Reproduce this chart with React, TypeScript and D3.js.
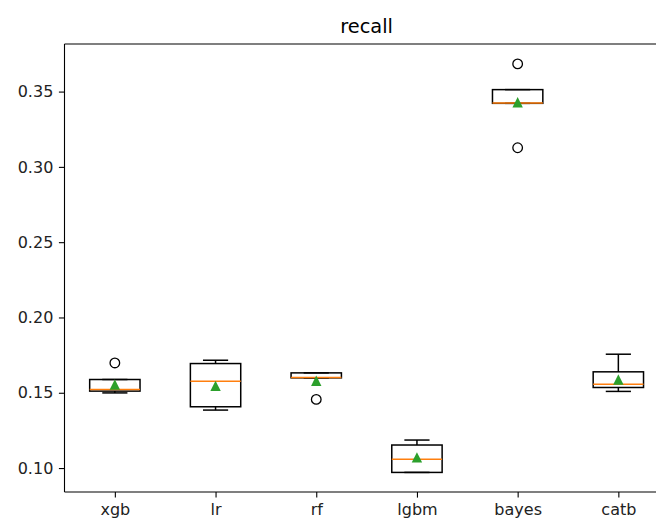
import React, { useEffect, useRef } from 'react';
import * as d3 from 'd3';

// box stats
const models = ['xgb', 'lr', 'rf', 'lgbm', 'bayes', 'catb'];
const whiskerLow = [0.1499, 0.1385, 0.1599, 0.0971, 0.3422, 0.1509];
const q1 = [0.1511, 0.1407, 0.1599, 0.0971, 0.3422, 0.1535];
const medians = [0.1522, 0.1577, 0.1601, 0.1058, 0.3425, 0.1557];
const q3 = [0.1588, 0.1694, 0.1632, 0.1153, 0.3513, 0.1639];
const whiskerHigh = [0.1588, 0.1716, 0.1632, 0.1186, 0.3513, 0.1756];
const means = [0.1555, 0.1546, 0.1580, 0.1071, 0.3429, 0.1588];
const outliers = [[0.1698], [], [0.1456], [], [0.3684, 0.3127], []];
const yTicks = [0.10, 0.15, 0.20, 0.25, 0.30, 0.35];

const App = () => {
    const ref = useRef<SVGSVGElement>(null);

    useEffect(() => {
        const width = 656, height = 522;
        const margin = { top: 44, bottom: 30, left: 64.5 };
        const plotRight = 668.7; // right spine falls outside the picture

        const svg = d3.select(ref.current);
        svg.selectAll('*').remove();

        const x = d3.scaleLinear().domain([0.5, 6.5]).range([margin.left, plotRight]);
        const y = d3.scaleLinear().domain([0.0841, 0.3816]).range([height - margin.bottom, margin.top]);

        const boxHalf = (x(1.25) - x(1));
        const capHalf = boxHalf / 2;
        const font = 'DejaVu Sans, sans-serif';

        // title
        svg.append('text')
            .attr('x', (margin.left + plotRight) / 2)
            .attr('y', 33)
            .attr('text-anchor', 'middle')
            .style('font-family', font)
            .style('font-size', '19.4px')
            .attr('fill', '#000')
            .text('recall');

        const boxes = svg.append('g');
        models.forEach((m, i) => {
            const cx = x(i + 1);
            const g = boxes.append('g');
            // whiskers
            g.append('line').attr('x1', cx).attr('x2', cx)
                .attr('y1', y(q1[i])).attr('y2', y(whiskerLow[i]))
                .attr('stroke', '#000').attr('stroke-width', 1.5);
            g.append('line').attr('x1', cx).attr('x2', cx)
                .attr('y1', y(q3[i])).attr('y2', y(whiskerHigh[i]))
                .attr('stroke', '#000').attr('stroke-width', 1.5);
            // caps
            [whiskerLow[i], whiskerHigh[i]].forEach(v => {
                g.append('line').attr('x1', cx - capHalf).attr('x2', cx + capHalf)
                    .attr('y1', y(v)).attr('y2', y(v))
                    .attr('stroke', '#000').attr('stroke-width', 1.5);
            });
            // box
            g.append('rect')
                .attr('x', cx - boxHalf)
                .attr('y', y(q3[i]))
                .attr('width', boxHalf * 2)
                .attr('height', Math.max(0.01, y(q1[i]) - y(q3[i])))
                .attr('fill', 'none')
                .attr('stroke', '#000')
                .attr('stroke-width', 1.5);
            // median
            g.append('line').attr('x1', cx - boxHalf).attr('x2', cx + boxHalf)
                .attr('y1', y(medians[i])).attr('y2', y(medians[i]))
                .attr('stroke', '#ff7f0e').attr('stroke-width', 1.5);
            // fliers
            g.selectAll('circle.flier')
                .data(outliers[i])
                .enter().append('circle')
                .attr('class', 'flier')
                .attr('cx', cx)
                .attr('cy', d => y(d))
                .attr('r', 4.8)
                .attr('fill', 'none')
                .attr('stroke', '#000')
                .attr('stroke-width', 1.3);
            // mean marker
            const my = y(means[i]);
            const s = 5.2;
            g.append('path')
                .attr('d', `M${cx},${my - s}L${cx + s},${my + s}L${cx - s},${my + s}Z`)
                .attr('fill', '#2ca02c');
        });

        // spines
        const axisColor = '#000';
        svg.append('line').attr('x1', margin.left).attr('x2', plotRight)
            .attr('y1', margin.top).attr('y2', margin.top)
            .attr('stroke', axisColor).attr('stroke-width', 1.1);
        svg.append('line').attr('x1', margin.left).attr('x2', plotRight)
            .attr('y1', height - margin.bottom).attr('y2', height - margin.bottom)
            .attr('stroke', axisColor).attr('stroke-width', 1.1);
        svg.append('line').attr('x1', margin.left).attr('x2', margin.left)
            .attr('y1', margin.top).attr('y2', height - margin.bottom)
            .attr('stroke', axisColor).attr('stroke-width', 1.1);

        // y axis
        const yAxis = d3.axisLeft(y)
            .tickValues(yTicks)
            .tickFormat(d3.format('.2f'))
            .tickSize(5.6)
            .tickPadding(5.6);
        const yg = svg.append('g')
            .attr('transform', `translate(${margin.left},0)`)
            .call(yAxis);
        yg.select('.domain').remove();

        // x axis
        const xAxis = d3.axisBottom(x)
            .tickValues(d3.range(1, models.length + 1))
            .tickFormat((d, i) => models[i])
            .tickSize(5.6)
            .tickPadding(5.6);
        const xg = svg.append('g')
            .attr('transform', `translate(0,${height - margin.bottom})`)
            .call(xAxis);
        xg.select('.domain').remove();

        [yg, xg].forEach(a => {
            a.selectAll('text')
                .style('font-family', font)
                .style('font-size', '16px')
                .attr('fill', '#222');
            a.selectAll('line').attr('stroke', '#000').attr('stroke-width', 1.1);
        });

        svg.attr('width', width).attr('height', height);
    }, []);

    return (
        <svg ref={ref} width={656} height={522}
            style={{ position: 'absolute', left: 0, top: 0, background: '#fff' }} />
    );
};

export default App;
